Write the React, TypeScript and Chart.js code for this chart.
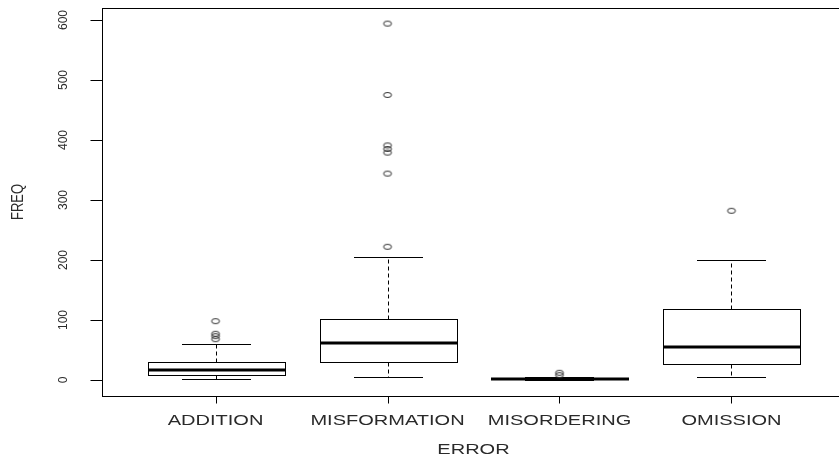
import { useEffect, useRef } from 'react';
import { Chart, registerables } from 'chart.js';

Chart.register(...registerables);

// Error categories on the x axis
const categories = ['ADDITION', 'MISFORMATION', 'MISORDERING', 'OMISSION'];

// Five-number summaries per category
const lowerWhisker = [1, 5, 0, 5];
const lowerQuartile = [8, 30, 1, 26];
const medians = [16, 61, 1, 55];
const upperQuartile = [30, 102, 3, 118];
const upperWhisker = [60, 205, 5, 200];

// Points beyond the whiskers
const outliers = [
  [98, 77, 73, 68],
  [594, 475, 391, 385, 379, 344, 222],
  [8, 12],
  [282],
];

const yTicks = [0, 100, 200, 300, 400, 500, 600];
const xTitle = 'ERROR';
const yTitle = 'FREQ';

const FONT = '"Liberation Sans", Arial, sans-serif';
const TEXT_COLOR = '#2a2a2a';
const BOX_HALF = 0.4; // half box width in category units

const crisp = (v: number) => Math.round(v) + 0.5;

function line(ctx: CanvasRenderingContext2D, x1: number, y1: number, x2: number, y2: number) {
  ctx.beginPath();
  ctx.moveTo(x1, y1);
  ctx.lineTo(x2, y2);
  ctx.stroke();
}

function drawText(
  ctx: CanvasRenderingContext2D,
  text: string,
  x: number,
  y: number,
  size: number,
  sx: number,
  vertical: boolean,
) {
  ctx.save();
  ctx.font = `${size}px ${FONT}`;
  ctx.fillStyle = TEXT_COLOR;
  ctx.textAlign = 'center';
  ctx.textBaseline = 'alphabetic';
  ctx.translate(x, y);
  ctx.scale(sx, 1);
  if (vertical) ctx.rotate(-Math.PI / 2);
  ctx.fillText(text, 0, 0);
  ctx.restore();
}

const boxPlotPlugin = {
  id: 'boxplot',
  beforeDatasetsDraw(chart: any) {
    const { ctx, scales } = chart;
    const x = scales.x;
    const y = scales.y;
    ctx.save();
    ctx.strokeStyle = '#000';
    categories.forEach((_, i) => {
      const cx = crisp(x.getPixelForValue(i + 1));
      const half = x.getPixelForValue(i + 1 + BOX_HALF) - x.getPixelForValue(i + 1);
      const capHalf = half / 2;
      const yLw = crisp(y.getPixelForValue(lowerWhisker[i]));
      const yQ1 = crisp(y.getPixelForValue(lowerQuartile[i]));
      const yMed = Math.round(y.getPixelForValue(medians[i]));
      const yQ3 = crisp(y.getPixelForValue(upperQuartile[i]));
      const yUw = crisp(y.getPixelForValue(upperWhisker[i]));

      // dashed whiskers
      ctx.lineWidth = 1;
      ctx.setLineDash([4, 3]);
      line(ctx, cx, yQ3, cx, yUw);
      line(ctx, cx, yQ1, cx, yLw);
      ctx.setLineDash([]);

      // staples
      line(ctx, Math.round(cx - capHalf), yUw, Math.round(cx + capHalf), yUw);
      line(ctx, Math.round(cx - capHalf), yLw, Math.round(cx + capHalf), yLw);

      // box
      const left = crisp(cx - half);
      const right = crisp(cx + half);
      ctx.strokeRect(left, yQ3, right - left, yQ1 - yQ3);

      // median
      ctx.lineWidth = 3;
      line(ctx, left - 0.5, yMed, right + 0.5, yMed);
    });
    ctx.restore();
  },
  afterDraw(chart: any) {
    const { ctx, chartArea, scales } = chart;
    const x = scales.x;
    const y = scales.y;
    const { left, top, right, bottom } = chartArea;
    ctx.save();
    ctx.strokeStyle = '#000';
    ctx.lineWidth = 1;

    // plot frame
    ctx.strokeRect(crisp(left), crisp(top), Math.round(right - left), Math.round(bottom - top));

    // y axis ticks and labels
    yTicks.forEach((v) => {
      const py = crisp(y.getPixelForValue(v));
      line(ctx, crisp(left) - 12, py, crisp(left), py);
      drawText(ctx, String(v), 67, y.getPixelForValue(v), 12, 1.1, true);
    });

    // x axis ticks and labels
    categories.forEach((c, i) => {
      const px = crisp(x.getPixelForValue(i + 1));
      line(ctx, px, crisp(bottom), px, crisp(bottom) + 7);
      drawText(ctx, c, x.getPixelForValue(i + 1), 424.5, 14, 1.43, false);
    });

    // axis titles
    drawText(ctx, xTitle, (left + right) / 2, 454, 14, 1.43, false);
    drawText(ctx, yTitle, 23, (top + bottom) / 2, 13, 1.25, true);
    ctx.restore();
  },
};

function makeRing(): HTMLCanvasElement {
  const c = document.createElement('canvas');
  c.width = 12;
  c.height = 8;
  const g = c.getContext('2d')!;
  g.strokeStyle = '#333';
  g.lineWidth = 1;
  g.beginPath();
  g.ellipse(6, 4, 4, 2.5, 0, 0, Math.PI * 2);
  g.stroke();
  return c;
}

export default function App() {
  const canvasRef = useRef<HTMLCanvasElement | null>(null);

  useEffect(() => {
    document.body.style.margin = '0';
    document.body.style.overflow = 'hidden';
    const canvas = canvasRef.current;
    if (!canvas) return;

    const ring = makeRing();
    const points = outliers.flatMap((vals, i) => vals.map((v) => ({ x: i + 1, y: v })));

    const chart = new Chart(canvas, {
      type: 'scatter',
      data: {
        datasets: [
          {
            data: points,
            pointStyle: ring as any,
            pointRadius: 4,
            pointHoverRadius: 4,
          },
        ],
      },
      options: {
        animation: false,
        responsive: false,
        events: [],
        layout: { padding: { left: 102, top: 8, right: 3, bottom: 60 } },
        plugins: {
          legend: { display: false },
          tooltip: { enabled: false },
        },
        scales: {
          x: { type: 'linear', min: 0.34, max: 4.66, display: false },
          y: { type: 'linear', min: -26.7, max: 620, display: false },
        },
      },
      plugins: [boxPlotPlugin],
    });

    return () => chart.destroy();
  }, []);

  return (
    <div style={{ position: 'fixed', left: 0, top: 0, width: 850, height: 456, background: '#fff' }}>
      <canvas ref={canvasRef} width={850} height={456} style={{ width: 850, height: 456 }} />
    </div>
  );
}
